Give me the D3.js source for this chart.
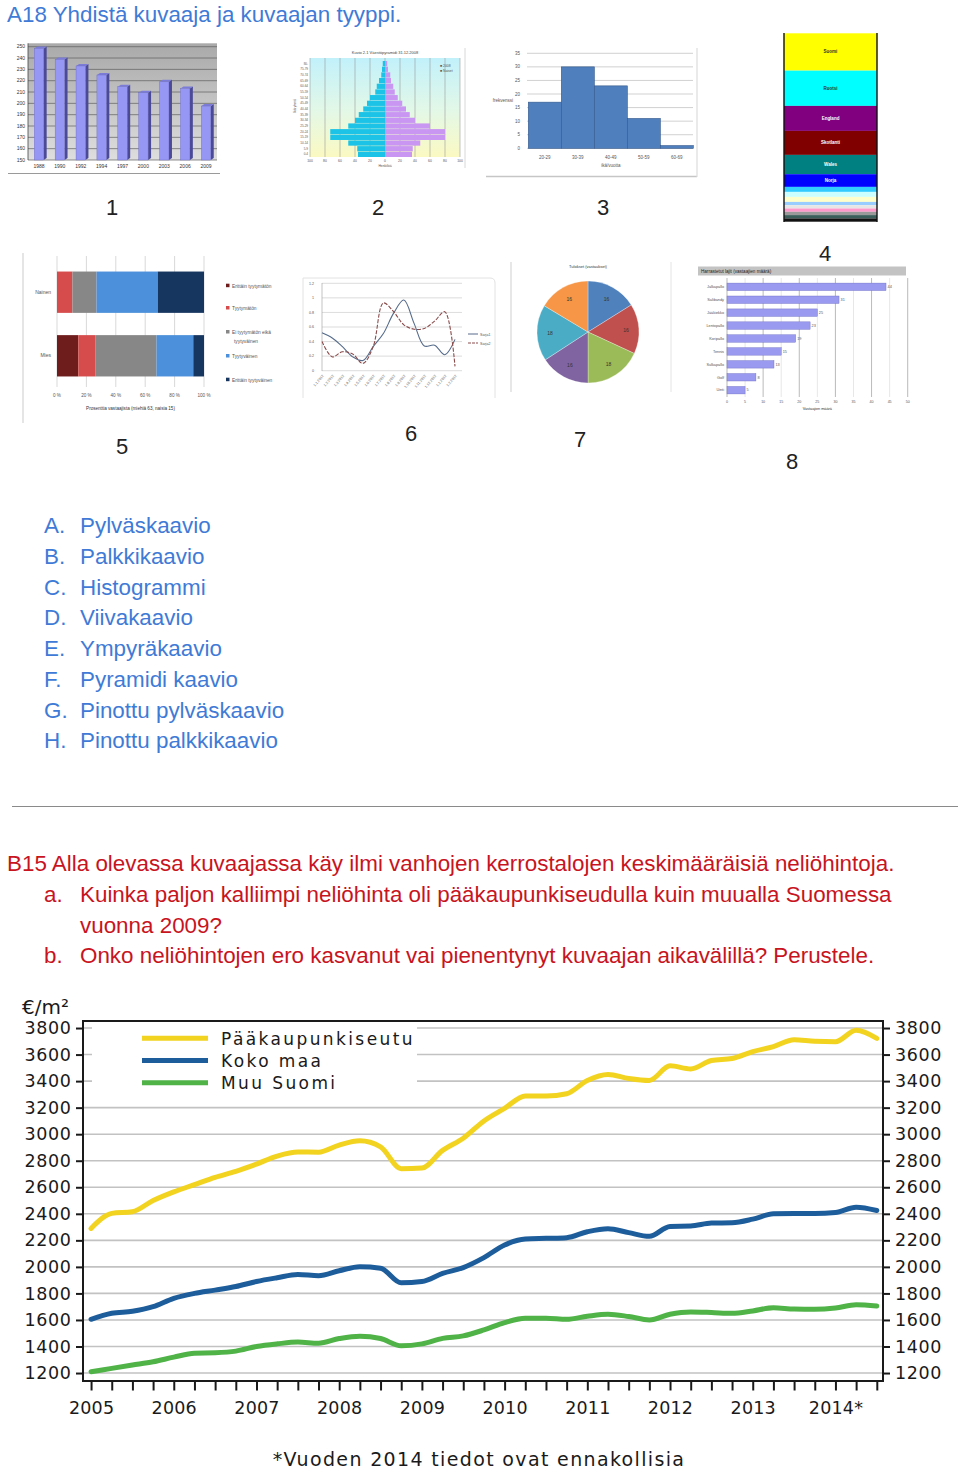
<!DOCTYPE html>
<html><head><meta charset="utf-8">
<script src="https://cdn.jsdelivr.net/npm/d3@7"></script>
<style>body{margin:0;background:#fff;}svg{display:block;}</style>
</head><body>
<svg id="page" width="960" height="1473"></svg>
<script>
// ================= DATA =================
// Main chart: quarterly 2005Q1 .. 2014Q3
const quarters = d3.range(39);
const yearLabels = ["2005","2006","2007","2008","2009","2010","2011","2012","2013","2014*"];
const yTicks = [1200,1400,1600,1800,2000,2200,2400,2600,2800,3000,3200,3400,3600,3800];
const seriesNames = ["Pääkaupunkiseutu","Koko maa","Muu Suomi"];
const paakaupunkiseutu = [2290,2403,2416,2500,2565,2620,2675,2720,2775,2835,2866,2864,2918,2950,2905,2740,2745,2878,2970,3100,
  3195,3288,3288,3305,3405,3450,3420,3405,3515,3492,3555,3570,3622,3660,3712,3700,3697,3783,3722];
const kokoMaa = [1605,1650,1665,1700,1763,1800,1825,1852,1890,1918,1942,1934,1971,2001,1990,1880,1890,1951,1995,2070,
  2165,2210,2215,2220,2265,2288,2258,2230,2305,2308,2330,2333,2360,2400,2403,2403,2410,2450,2425];
const muuSuomi = [1210,1235,1260,1285,1320,1350,1353,1365,1400,1420,1433,1425,1460,1478,1460,1405,1420,1461,1480,1525,
  1580,1612,1613,1605,1628,1643,1626,1600,1643,1660,1656,1650,1668,1692,1682,1680,1690,1715,1705];

// Texts
const titleA = "A18 Yhdistä kuvaaja ja kuvaajan tyyppi.";
const listLetters = ["A.","B.","C.","D.","E.","F.","G.","H."];
const listItems = ["Pylväskaavio","Palkkikaavio","Histogrammi","Viivakaavio","Ympyräkaavio","Pyramidi kaavio","Pinottu pylväskaavio","Pinottu palkkikaavio"];
const titleB = "B15 Alla olevassa kuvaajassa käy ilmi vanhojen kerrostalojen keskimääräisiä neliöhintoja.";
const qLetters = ["a.","b."];
const qLines = [["Kuinka paljon kalliimpi neliöhinta oli pääkaupunkiseudulla kuin muualla Suomessa","vuonna 2009?"],
  ["Onko neliöhintojen ero kasvanut vai pienentynyt kuvaajan aikavälillä? Perustele."]];
const unitLabel = "€/m²";
const footnote = "*Vuoden 2014 tiedot ovat ennakollisia";
const thumbNumbers = ["1","2","3","4","5","6","7","8"];

// Thumb 1: bar chart
const t1Years = ["1988","1990","1992","1994","1997","2000","2003","2006","2009"];
const t1Values = [248.5,238.8,233,225,214.7,209.4,219,213,197.6];
const t1Ticks = [150,160,170,180,190,200,210,220,230,240,250];
// Thumb 2: population pyramid (youngest first)
const t2Ages = ["0-4","5-9","10-14","15-19","20-24","25-29","30-34","35-39","40-44","45-49","50-54","55-59","60-64","65-69","70-74","75-79","80-"];
const t2Men = [36,37,49,73,73,49,40,35,29,24,20,13,11,8,5,4,3];
const t2Women = [36,37,47,80,80,60,40,33,28,23,17,13,11,8,7,4,3];
const t2Ticks = [-100,-80,-60,-40,-20,0,20,40,60,80,100];
// Thumb 3: histogram
const t3Bins = ["20-29","30-39","40-49","50-59","60-69"];
const t3Counts = [17,30,23,11,1];
const t3Ticks = [0,5,10,15,20,25,30,35];
// Thumb 4: stacked column
const t4Labels = ["Suomi","Ruotsi","England","Skotlanti","Wales","Norja","","","","","","","","",""];
const t4Values = [37.3,35.3,25,24,19.3,12.7,5,5,5,3.3,3.3,3.3,3.3,3.3,3.3];
// Thumb 5: 100 % stacked bar
const t5Groups = ["Nainen","Mies"];
const t5Cats = ["Erittäin tyytymätön","Tyytymätön","Ei tyytymätön eikä tyytyväinen","Tyytyväinen","Erittäin tyytyväinen"];
const t5Nainen = [0,10.5,16.4,41.6,31.5];
const t5Mies = [14.5,11.8,41.4,25,7.3];
const t5Ticks = [0,20,40,60,80,100];
// Thumb 6: line chart
const t6Labels = ["1.1.","1.2.","1.3.","1.4.","1.5.","1.6.","1.7.","1.8.","1.9.","1.10.","1.11.","1.12.","1.1.","1.2."];
const t6Sarja1 = [0.52,0.45,0.33,0.19,0.14,0.33,0.51,0.79,0.97,0.65,0.34,0.35,0.22,0.43];
const t6Sarja2 = [0.40,0.19,0.26,0.23,0.10,0.33,0.93,0.81,0.63,0.57,0.58,0.68,0.81,0.06];
const t6Ticks = [0,0.2,0.4,0.6,0.8,1,1.2];
// Thumb 7: pie
const t7Values = [16.1,15.8,18.1,15.8,17.8,16.4];
// Thumb 8: horizontal bars
const t8Cats = ["Jalkapallo","Salibandy","Jääkiekko","Lentopallo","Koripallo","Tennis","Sulkapallo","Golf","Uinti"];
const t8Values = [44,31,25,23,19,15,13,8,5];
const t8Ticks = [0,5,10,15,20,25,30,35,40,45,50];

// ================= STYLE =================
const FONT = "'Liberation Sans', Arial, sans-serif";
const CFONT = "'DejaVu Sans', Verdana, sans-serif";
const BLUE = "#3f7bd6", RED = "#c8141e";
const BODY = 22.4;

const svg = d3.select("#page");
svg.append("rect").attr("width",960).attr("height",1473).attr("fill","#fff");
const defs = svg.append("defs");
function vgrad(id, stops){
  const g = defs.append("linearGradient").attr("id",id).attr("x1",0).attr("y1",0).attr("x2",0).attr("y2",1);
  stops.forEach(s=>g.append("stop").attr("offset",s[0]).attr("stop-color",s[1]));
}
vgrad("t1bg",[["0%","#a9a9a9"],["100%","#dedede"]]);
vgrad("t2bg",[["0%","#c2f1fb"],["55%","#e4f8e6"],["100%","#fbf9c2"]]);

function tiny(sel,size){ return sel.attr("font-family",FONT).attr("font-size",size||4.6).attr("fill","#555"); }

// ================= TEXT =================
svg.append("text").attr("x",7).attr("y",22).attr("font-family",FONT).attr("font-size",BODY).attr("fill",BLUE).text(titleA);

const listG = svg.append("g").attr("font-family",FONT).attr("font-size",BODY).attr("fill",BLUE);
listItems.forEach((t,i)=>{
  const yy = 533 + i*30.75;
  listG.append("text").attr("x",44).attr("y",yy).text(listLetters[i]);
  listG.append("text").attr("x",80).attr("y",yy).text(t);
});
svg.append("line").attr("x1",12).attr("x2",958).attr("y1",806.5).attr("y2",806.5).attr("stroke","#8a8a8a").attr("stroke-width",1.2);

const bG = svg.append("g").attr("font-family",FONT).attr("font-size",BODY).attr("fill",RED);
bG.append("text").attr("x",7).attr("y",871).text(titleB);
let by = 902;
qLines.forEach((lines,i)=>{
  bG.append("text").attr("x",44).attr("y",by).text(qLetters[i]);
  lines.forEach(l=>{ bG.append("text").attr("x",80).attr("y",by).text(l); by += 30.7; });
});

// thumbnail numbers
const numPos = [[112,215],[378,215],[603,215],[825,261],[122,454],[411,441],[580,447],[792,469]];
svg.append("g").attr("font-family",FONT).attr("font-size",22).attr("fill","#222").attr("text-anchor","middle")
  .selectAll("text").data(thumbNumbers).join("text")
  .attr("x",(d,i)=>numPos[i][0]).attr("y",(d,i)=>numPos[i][1]).text(d=>d);

// ================= THUMB 1 =================
(function(){
  const g = svg.append("g");
  g.append("line").attr("x1",8).attr("x2",220).attr("y1",173.5).attr("y2",173.5).attr("stroke","#9a9a9a").attr("stroke-width",1.2);
  const x = d3.scaleBand().domain(t1Years).range([28,217]).paddingInner(0.55).paddingOuter(0.3);
  const y = d3.scaleLinear().domain([150,250]).range([160,46.7]);
  g.append("rect").attr("x",28).attr("y",y(253)).attr("width",189).attr("height",y(150)-y(253)).attr("fill","url(#t1bg)");
  g.selectAll("line.gr").data(t1Ticks).join("line").attr("x1",28).attr("x2",217)
    .attr("y1",d=>y(d)).attr("y2",d=>y(d)).attr("stroke","#5e5e5e").attr("stroke-width",0.7);
  g.append("line").attr("x1",28).attr("x2",28).attr("y1",y(253)).attr("y2",y(150)).attr("stroke","#444").attr("stroke-width",0.8);
  const bw = x.bandwidth(), dd = 3;
  t1Values.forEach((v,i)=>{
    const x0 = x(t1Years[i]), yt = y(v), yb = y(150);
    g.append("polygon").attr("points",[[x0+bw,yt],[x0+bw+dd,yt-2],[x0+bw+dd,yb-2],[x0+bw,yb]].join(" ")).attr("fill","#4a4a98");
    g.append("polygon").attr("points",[[x0,yt],[x0+dd,yt-2],[x0+bw+dd,yt-2],[x0+bw,yt]].join(" ")).attr("fill","#7c7cd8");
    g.append("rect").attr("x",x0).attr("y",yt).attr("width",bw).attr("height",yb-yt).attr("fill","#9696f4").attr("stroke","#6a6ac0").attr("stroke-width",0.4);
  });
  tiny(g.append("g").selectAll("text").data(t1Ticks).join("text"),5).attr("x",25).attr("y",d=>y(d)+1.7).attr("text-anchor","end").attr("fill","#333").text(d=>d);
  tiny(g.append("g").selectAll("text").data(t1Years).join("text"),5).attr("x",d=>x(d)+bw/2).attr("y",167.5).attr("text-anchor","middle").attr("fill","#333").text(d=>d);
})();

// ================= THUMB 2 =================
(function(){
  const g = svg.append("g");
  const cx = 385;
  const s = d3.scaleLinear().domain([0,100]).range([0,75]);
  const y = d3.scaleBand().domain(t2Ages).range([157,61]).paddingInner(0.08);
  g.append("rect").attr("x",cx-s(100)).attr("y",58).attr("width",s(200)).attr("height",99).attr("fill","url(#t2bg)");
  g.selectAll("line.v").data(t2Ticks).join("line").attr("x1",d=>cx+s(d)).attr("x2",d=>cx+s(d)).attr("y1",58).attr("y2",157).attr("stroke","#8a8a8a").attr("stroke-width",0.5);
  g.selectAll("rect.m").data(t2Men).join("rect").attr("x",d=>cx-s(d)).attr("y",(d,i)=>y(t2Ages[i])).attr("width",d=>s(d)).attr("height",y.bandwidth()).attr("fill","#1cc3e6");
  g.selectAll("rect.w").data(t2Women).join("rect").attr("x",cx).attr("y",(d,i)=>y(t2Ages[i])).attr("width",d=>s(d)).attr("height",y.bandwidth()).attr("fill","#c996f2");
  g.append("line").attr("x1",465).attr("x2",465).attr("y1",48).attr("y2",168).attr("stroke","#d8d8d8");
  tiny(g.append("text"),4).attr("x",cx).attr("y",54).attr("text-anchor","middle").attr("fill","#444").text("Kuvio 2.1 Väestöpyramidi 31.12.2008");
  tiny(g.append("g").selectAll("text").data(t2Ages).join("text"),3).attr("x",308).attr("y",d=>y(d)+y.bandwidth()/2+1).attr("text-anchor","end").text(d=>d);
  tiny(g.append("g").selectAll("text").data(t2Ticks).join("text"),3.4).attr("x",d=>cx+s(d)).attr("y",162).attr("text-anchor","middle").text(d=>Math.abs(d));
  tiny(g.append("text"),3.4).attr("x",cx).attr("y",167).attr("text-anchor","middle").text("Henkilöä");
  tiny(g.append("text"),3.4).attr("transform","translate(296,106) rotate(-90)").attr("text-anchor","middle").text("Ikäryhmä");
  tiny(g.append("text"),3.4).attr("x",440).attr("y",67).text("■ 2008");
  tiny(g.append("text"),3.4).attr("x",440).attr("y",72).text("■ Naiset");
})();

// ================= THUMB 3 =================
(function(){
  const g = svg.append("g");
  g.append("line").attr("x1",486).attr("x2",697).attr("y1",176.5).attr("y2",176.5).attr("stroke","#c6c6c6").attr("stroke-width",1.5);
  g.append("line").attr("x1",697).attr("x2",697).attr("y1",48).attr("y2",177).attr("stroke","#dcdcdc").attr("stroke-width",1.2);
  const x = d3.scaleBand().domain(t3Bins).range([528.3,693.3]).padding(0);
  const y = d3.scaleLinear().domain([0,35]).range([148.3,53.3]);
  g.selectAll("line.gr").data(t3Ticks).join("line").attr("x1",527).attr("x2",693).attr("y1",d=>y(d)).attr("y2",d=>y(d)).attr("stroke","#bdbdbd").attr("stroke-width",0.7);
  g.selectAll("rect.b").data(t3Counts).join("rect").attr("x",(d,i)=>x(t3Bins[i])).attr("y",d=>y(d)).attr("width",x.bandwidth()).attr("height",d=>y(0)-y(d))
    .attr("fill","#4f7fbd").attr("stroke","#33588a").attr("stroke-width",0.6);
  tiny(g.append("g").selectAll("text").data(t3Ticks).join("text"),4.5).attr("x",520).attr("y",d=>y(d)+1.5).attr("text-anchor","end").text(d=>d);
  tiny(g.append("g").selectAll("text").data(t3Bins).join("text"),4.5).attr("x",d=>x(d)+x.bandwidth()/2).attr("y",159).attr("text-anchor","middle").text(d=>d);
  tiny(g.append("text"),4.5).attr("x",x("40-49")+x.bandwidth()/2).attr("y",166.5).attr("text-anchor","middle").text("ikä/vuotta");
  tiny(g.append("text"),4.5).attr("x",503).attr("y",102).attr("text-anchor","middle").text("frekvenssi");
})();

// ================= THUMB 4 =================
(function(){
  const g = svg.append("g");
  const pal = ["#ffff00","#00ffff","#800080","#800000","#008080","#0000ff","#33ccff","#ccffff","#ffffcc","#99ccff","#e6e6e6","#ff99cc","#9a9a9a","#3a5f5a","#111111"];
  const txt = ["#333","#333","#fff","#fff","#fff","#fff"];
  const total = d3.sum(t4Values);
  const y = d3.scaleLinear().domain([0,total]).range([33.3,221.7]);
  const cum = d3.cumsum(t4Values);
  g.selectAll("rect").data(t4Values).join("rect").attr("x",784).attr("width",93)
    .attr("y",(d,i)=>y(cum[i]-d)).attr("height",d=>y(d)-y(0)).attr("fill",(d,i)=>pal[i]);
  g.selectAll("text").data(t4Labels).join("text").attr("x",830.5).attr("y",(d,i)=>(y(cum[i]-t4Values[i])+y(cum[i]))/2+1.5)
    .attr("text-anchor","middle").attr("font-family",FONT).attr("font-size",4.5).attr("font-weight","bold").attr("fill",(d,i)=>txt[i]||"#333").text(d=>d);
  g.append("line").attr("x1",784).attr("x2",784).attr("y1",33).attr("y2",222).attr("stroke","#111").attr("stroke-width",1.4);
  g.append("line").attr("x1",877).attr("x2",877).attr("y1",33).attr("y2",222).attr("stroke","#111").attr("stroke-width",1.4);
})();

// ================= THUMB 5 =================
(function(){
  const g = svg.append("g");
  const pal = ["#6e1c1c","#d64c4c","#878787","#4c8fda","#17365f"];
  g.append("line").attr("x1",23).attr("x2",23).attr("y1",253).attr("y2",423).attr("stroke","#d4d4d4").attr("stroke-width",1.2);
  const x = d3.scaleLinear().domain([0,100]).range([57,204]);
  const y = d3.scaleBand().domain(t5Groups).range([262,386]).paddingInner(0.35).paddingOuter(0.15);
  g.selectAll("line.v").data(t5Ticks).join("line").attr("x1",d=>x(d)).attr("x2",d=>x(d)).attr("y1",256).attr("y2",387).attr("stroke","#c8c8c8").attr("stroke-width",0.7);
  [t5Nainen,t5Mies].forEach((vals,gi)=>{
    const cum = d3.cumsum(vals);
    g.selectAll("rect.s"+gi).data(vals).join("rect").attr("x",(d,i)=>x(cum[i]-d)).attr("width",d=>x(d)-x(0))
      .attr("y",y(t5Groups[gi])).attr("height",y.bandwidth()).attr("fill",(d,i)=>pal[i]);
  });
  tiny(g.append("g").selectAll("text").data(t5Groups).join("text"),5).attr("x",51).attr("y",d=>y(d)+y.bandwidth()/2+1.7).attr("text-anchor","end").text(d=>d);
  tiny(g.append("g").selectAll("text").data(t5Ticks).join("text"),4.6).attr("x",d=>x(d)).attr("y",397).attr("text-anchor","middle").text(d=>d+" %");
  tiny(g.append("text"),4.6).attr("x",x(50)).attr("y",410).attr("text-anchor","middle").attr("fill","#333").text("Prosenttia vastaajista (miehiä 63, naisia 15)");
  const ly = [286.7,309,333,357,380.7];
  t5Cats.forEach((c,i)=>{
    g.append("rect").attr("x",226).attr("y",ly[i]-3).attr("width",3.5).attr("height",3.5).attr("fill",pal[i]);
    const t = tiny(g.append("text"),4.8).attr("x",232).attr("y",ly[i]+1);
    if(i===2){ t.append("tspan").text("Ei tyytymätön eikä"); t.append("tspan").attr("x",234).attr("dy",8.5).text("tyytyväinen"); }
    else t.text(c);
  });
})();

// ================= THUMB 6 =================
(function(){
  const g = svg.append("g");
  g.append("path").attr("d","M303,398 L303,278 L490,278 Q495,278 495,283 L495,398").attr("fill","none").attr("stroke","#e2e2e2").attr("stroke-width",1);
  const x = d3.scalePoint().domain(d3.range(t6Labels.length)).range([322,455]);
  const y = d3.scaleLinear().domain([0,1.2]).range([370.7,283.3]);
  g.selectAll("line.gr").data(t6Ticks).join("line").attr("x1",322).attr("x2",462).attr("y1",d=>y(d)).attr("y2",d=>y(d)).attr("stroke","#c4c4c4").attr("stroke-width",0.6);
  g.append("line").attr("x1",322).attr("x2",322).attr("y1",283).attr("y2",371).attr("stroke","#9a9a9a").attr("stroke-width",0.6);
  const ln = d3.line().x((d,i)=>x(i)).y(d=>y(d)).curve(d3.curveCatmullRom);
  g.append("path").attr("d",ln(t6Sarja1)).attr("fill","none").attr("stroke","#566b8a").attr("stroke-width",1.1);
  g.append("path").attr("d",ln(t6Sarja2)).attr("fill","none").attr("stroke","#8a4b4b").attr("stroke-width",1.1).attr("stroke-dasharray","4,1.5");
  tiny(g.append("g").selectAll("text").data(t6Ticks).join("text"),3.6).attr("x",314).attr("y",d=>y(d)+1.2).attr("text-anchor","end").text(d=>d);
  tiny(g.append("g").selectAll("text").data(t6Labels).join("text"),3.6).attr("transform",(d,i)=>`translate(${x(i)+2},${376}) rotate(-50)`).attr("text-anchor","end").text(d=>d+"2012");
  g.append("line").attr("x1",468).attr("x2",478).attr("y1",334).attr("y2",334).attr("stroke","#566b8a");
  g.append("line").attr("x1",468).attr("x2",478).attr("y1",343).attr("y2",343).attr("stroke","#8a4b4b").attr("stroke-dasharray","3,1");
  tiny(g.append("text"),3.6).attr("x",480).attr("y",335.5).text("Sarja1");
  tiny(g.append("text"),3.6).attr("x",480).attr("y",344.5).text("Sarja2");
})();

// ================= THUMB 7 =================
(function(){
  const g = svg.append("g");
  const pal = ["#4f81bd","#c0504d","#9bbb59","#8064a2","#4bacc6","#f79646"];
  g.append("line").attr("x1",511).attr("x2",511).attr("y1",262).attr("y2",392).attr("stroke","#cfcfcf").attr("stroke-width",1);
  g.append("line").attr("x1",671).attr("x2",671).attr("y1",262).attr("y2",392).attr("stroke","#e4e4e4").attr("stroke-width",1);
  const pie = d3.pie().sort(null)(t7Values);
  const arc = d3.arc().innerRadius(0).outerRadius(51);
  const lab = d3.arc().innerRadius(38).outerRadius(38);
  const pg = g.append("g").attr("transform","translate(588,332)");
  pg.selectAll("path").data(pie).join("path").attr("d",arc).attr("fill",(d,i)=>pal[i]).attr("stroke","#fff").attr("stroke-width",0.3);
  tiny(pg.selectAll("text").data(pie).join("text"),5).attr("transform",d=>`translate(${lab.centroid(d)})`).attr("text-anchor","middle").attr("dy",2).attr("fill","#333").text(d=>Math.round(d.data));
  tiny(g.append("text"),4).attr("x",588).attr("y",268).attr("text-anchor","middle").attr("fill","#333").text("Tulokset (vastaukset)");
})();

// ================= THUMB 8 =================
(function(){
  const g = svg.append("g");
  g.append("rect").attr("x",698).attr("y",266.5).attr("width",208).attr("height",9).attr("fill","#c3c3c3");
  tiny(g.append("text"),4.6).attr("x",701).attr("y",273).attr("fill","#222").text("Harrastetut lajit (vastaajien määrä)");
  const x = d3.scaleLinear().domain([0,50]).range([727,907.7]);
  const y = d3.scaleBand().domain(t8Cats).range([280.5,396.5]).paddingInner(0.42).paddingOuter(0.2);
  g.selectAll("line.v").data(t8Ticks).join("line").attr("x1",d=>x(d)).attr("x2",d=>x(d)).attr("y1",278).attr("y2",397)
    .attr("stroke",d=>d%10===0?"#8c8c8c":"#d6d6d6").attr("stroke-width",0.6);
  g.selectAll("rect.b").data(t8Values).join("rect").attr("x",x(0)).attr("y",(d,i)=>y(t8Cats[i])).attr("width",d=>x(d)-x(0)).attr("height",y.bandwidth())
    .attr("fill","#9a9af0").attr("stroke","#6c6cc4").attr("stroke-width",0.4);
  tiny(g.append("g").selectAll("text").data(t8Cats).join("text"),3.8).attr("x",724).attr("y",d=>y(d)+y.bandwidth()/2+1.3).attr("text-anchor","end").text(d=>d);
  tiny(g.append("g").selectAll("text").data(t8Values).join("text"),3.8).attr("x",d=>x(d)+1.5).attr("y",(d,i)=>y(t8Cats[i])+y.bandwidth()/2+1.3).text(d=>d);
  tiny(g.append("g").selectAll("text").data(t8Ticks).join("text"),3.6).attr("x",d=>x(d)).attr("y",403).attr("text-anchor","middle").text(d=>d);
  tiny(g.append("text"),3.8).attr("x",x(25)).attr("y",409.5).attr("text-anchor","middle").attr("fill","#333").text("Vastaajien määrä");
})();

// ================= MAIN CHART =================
(function(){
  const L = 83, R = 883, T = 1021, B = 1381;
  const mx = d3.scaleLinear().domain([-0.39, 38.3]).range([L, R]);
  const my = d3.scaleLinear().domain([1140, 3853]).range([B, T]);
  const g = svg.append("g");
  g.selectAll("line.grid").data(yTicks).join("line").attr("x1",L).attr("x2",R)
    .attr("y1",d=>my(d)).attr("y2",d=>my(d)).attr("stroke","#c2c2c2").attr("stroke-width",1.6);
  g.append("rect").attr("x",92).attr("y",1023).attr("width",325).attr("height",73).attr("fill","#fff");
  const series = [
    {name:seriesNames[0], values:paakaupunkiseutu, color:"#f2d31f"},
    {name:seriesNames[1], values:kokoMaa, color:"#1d5d9b"},
    {name:seriesNames[2], values:muuSuomi, color:"#4fb348"}];
  const line = d3.line().x((d,i)=>mx(quarters[i])).y(d=>my(d)).curve(d3.curveMonotoneX);
  g.selectAll("path.s").data(series).join("path").attr("d",d=>line(d.values)).attr("fill","none")
    .attr("stroke",d=>d.color).attr("stroke-width",5).attr("stroke-linejoin","round").attr("stroke-linecap","round");
  g.append("rect").attr("x",L).attr("y",T).attr("width",R-L).attr("height",B-T).attr("fill","none").attr("stroke","#1a1a1a").attr("stroke-width",2);

  const styleAxis = (ax)=>{
    ax.select(".domain").remove();
    ax.selectAll(".tick line").attr("stroke","#1a1a1a").attr("stroke-width",2);
    ax.selectAll(".tick text").attr("font-family",CFONT).attr("font-size",17.5).attr("letter-spacing",0.6).attr("fill","#1a1a1a");
  };
  const fmt = d3.format("d");
  styleAxis(g.append("g").attr("transform",`translate(${L},0)`).call(d3.axisLeft(my).tickValues(yTicks).tickSize(7).tickPadding(4.5).tickFormat(fmt)));
  styleAxis(g.append("g").attr("transform",`translate(${R},0)`).call(d3.axisRight(my).tickValues(yTicks).tickSize(7).tickPadding(5).tickFormat(fmt)));
  const bx = g.append("g").attr("transform",`translate(0,${B})`)
    .call(d3.axisBottom(mx).tickValues(quarters).tickSize(9.5).tickPadding(11.5).tickFormat(d=>d%4===0?yearLabels[d/4]:""));
  styleAxis(bx);
  bx.selectAll(".tick text").attr("letter-spacing",0.2);

  // legend
  const lg = g.append("g");
  series.forEach((s,i)=>{
    const yy = 1038.3 + i*22.2;
    lg.append("line").attr("x1",142).attr("x2",208).attr("y1",yy).attr("y2",yy).attr("stroke",s.color).attr("stroke-width",5);
    lg.append("text").attr("x",221).attr("y",yy+6.5).attr("font-family",CFONT).attr("font-size",17).attr("letter-spacing",2.4).attr("fill","#1a1a1a").text(s.name);
  });
  g.append("text").attr("x",22).attr("y",1014).attr("font-family",CFONT).attr("font-size",20).attr("fill","#1a1a1a").text(unitLabel);
  g.append("text").attr("x",479).attr("y",1466).attr("text-anchor","middle").attr("font-family",CFONT).attr("font-size",19).attr("letter-spacing",1.35).attr("fill","#1a1a1a").text(footnote);
})();
</script>
</body></html>
